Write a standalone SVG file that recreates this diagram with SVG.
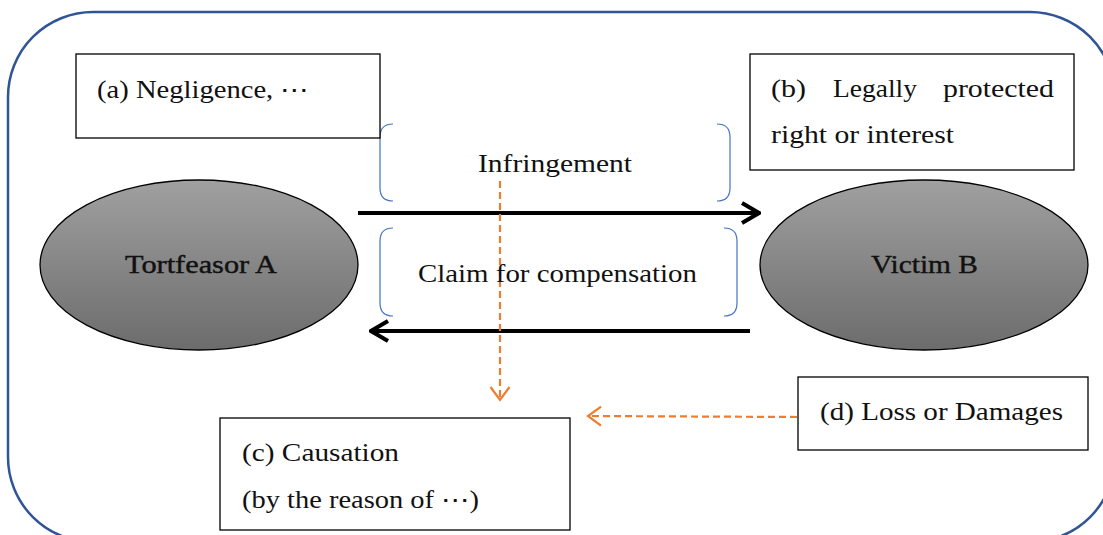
<svg xmlns="http://www.w3.org/2000/svg" width="1103" height="535" viewBox="0 0 1103 535">
<style>
text{font-size:25px;fill:#111}
.box{fill:#fff;stroke:#000;stroke-width:1.3}
.ell{fill:url(#g);stroke:#000;stroke-width:1.3}
.br{fill:none;stroke:#4472C4;stroke-width:1.2}
.blk{fill:none;stroke:#000;stroke-width:4}
.org{fill:none;stroke:#ED7D31;stroke-width:2.2;stroke-dasharray:7 4}
</style>
<defs>
<linearGradient id="g" x1="0" y1="0" x2="0" y2="1">
<stop offset="0" stop-color="#a0a0a0"/>
<stop offset="1" stop-color="#6c6c6c"/>
</linearGradient>
<marker id="ab" markerUnits="userSpaceOnUse" viewBox="0 0 22 24" markerWidth="22" markerHeight="24" refX="20" refY="12" orient="auto">
<path d="M3,2 L20,12 L3,22" fill="none" stroke="#000" stroke-width="4"/>
</marker>
<marker id="ao" markerUnits="userSpaceOnUse" viewBox="0 0 16 22" markerWidth="16" markerHeight="22" refX="14" refY="11" orient="auto">
<path d="M1,1.5 L14,11 L1,20.5" fill="none" stroke="#ED7D31" stroke-width="2.2"/>
</marker>
</defs>
<rect x="8" y="12" width="1107" height="530" rx="85" ry="85" fill="#fff" stroke="#2F5597" stroke-width="2.5"/>

<g id="connectors">
<line class="blk" x1="358" y1="213" x2="759" y2="213" marker-end="url(#ab)"/>
<line class="blk" x1="750" y1="331" x2="371" y2="331" marker-end="url(#ab)"/>
<line class="org" x1="500" y1="181" x2="500" y2="400" marker-end="url(#ao)"/>
<line class="org" x1="797" y1="417" x2="588" y2="416" marker-end="url(#ao)"/>
</g>

<g font-family="'Liberation Serif', 'DejaVu Serif', serif">
<g id="label-infringement">
<path class="br" d="M393,124 Q380,124 380,137 L380,188 Q380,201 393,201"/>
<path class="br" d="M717,124 Q730,124 730,137 L730,188 Q730,201 717,201"/>
<text x="478" y="172" textLength="154" lengthAdjust="spacingAndGlyphs">Infringement</text>
</g>

<g id="label-claim">
<path class="br" d="M393,228 Q380,228 380,241 L380,303 Q380,316 393,316"/>
<path class="br" d="M724,228 Q737,228 737,241 L737,303 Q737,316 724,316"/>
<text x="418" y="282" textLength="279" lengthAdjust="spacingAndGlyphs">Claim for compensation</text>
</g>

<g id="node-a">
<rect class="box" x="76" y="54" width="304" height="84"/>
<text x="97" y="98" textLength="212" lengthAdjust="spacingAndGlyphs">(a) Negligence, ⋯</text>
</g>

<g id="node-b">
<rect class="box" x="750" y="54" width="324" height="116"/>
<text x="771" y="97" textLength="35" lengthAdjust="spacingAndGlyphs">(b)</text>
<text x="833" y="97" textLength="84" lengthAdjust="spacingAndGlyphs">Legally</text>
<text x="943" y="97" textLength="111" lengthAdjust="spacingAndGlyphs">protected</text>
<text x="771" y="143" textLength="183" lengthAdjust="spacingAndGlyphs">right or interest</text>
</g>

<g id="node-tortfeasor">
<ellipse class="ell" cx="199" cy="265" rx="159" ry="85"/>
<text x="125" y="273" textLength="152" lengthAdjust="spacingAndGlyphs" stroke="#111" stroke-width="0.4">Tortfeasor A</text>
</g>

<g id="node-victim">
<ellipse class="ell" cx="924" cy="265" rx="164" ry="85"/>
<text x="871" y="273" textLength="107" lengthAdjust="spacingAndGlyphs" stroke="#111" stroke-width="0.4">Victim B</text>
</g>

<g id="node-c">
<rect class="box" x="220" y="418" width="350" height="112"/>
<text x="242" y="461" textLength="157" lengthAdjust="spacingAndGlyphs">(c) Causation</text>
<text x="242" y="508" textLength="237" lengthAdjust="spacingAndGlyphs">(by the reason of ⋯)</text>
</g>

<g id="node-d">
<rect class="box" x="798" y="377" width="290" height="73"/>
<text x="820" y="420" textLength="243" lengthAdjust="spacingAndGlyphs">(d) Loss or Damages</text>
</g>
</g>
</svg>
